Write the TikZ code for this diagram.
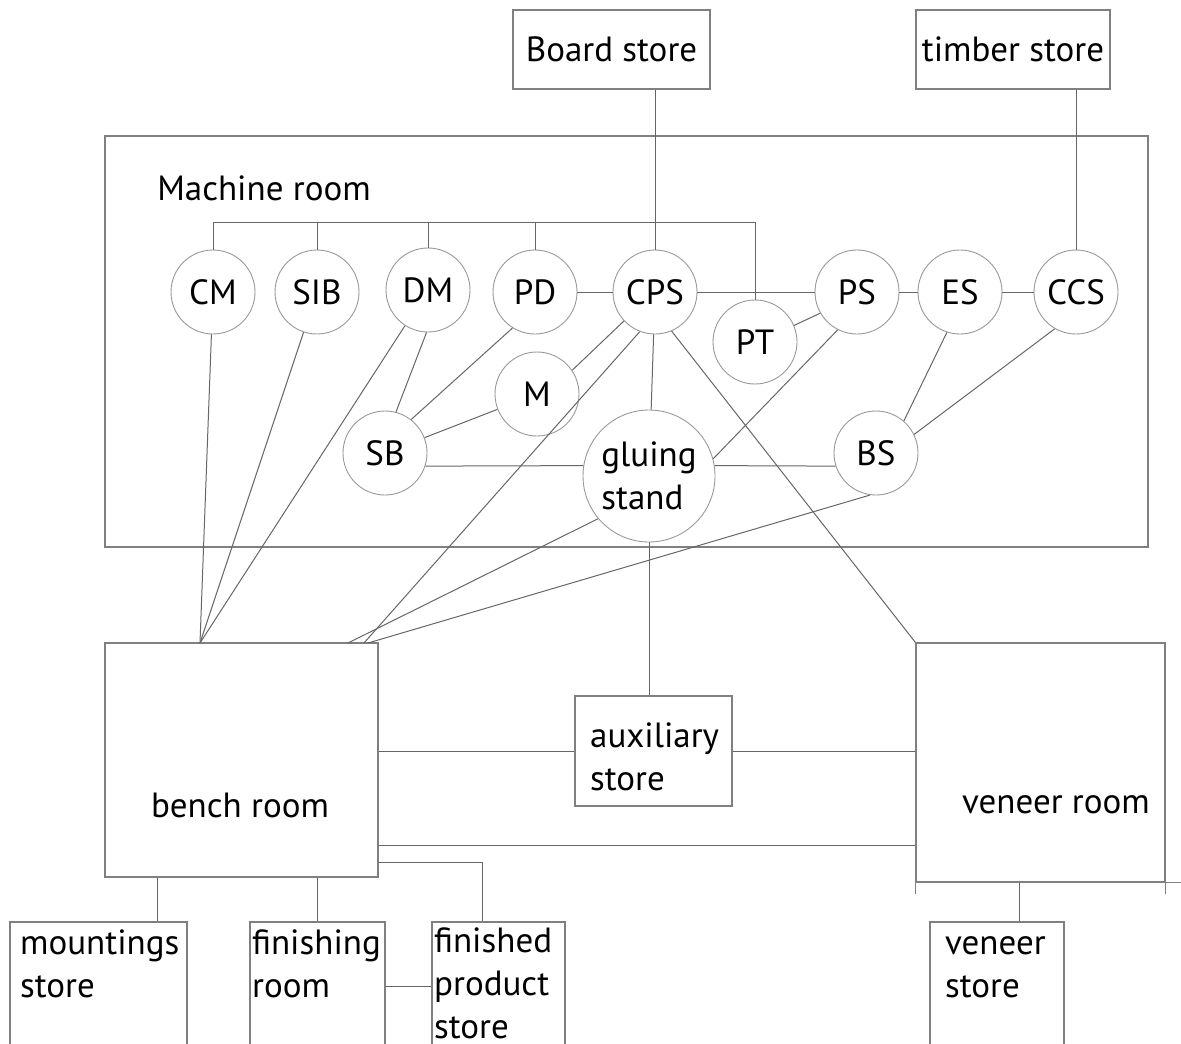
\documentclass[tikz,border=0pt]{standalone}
\usepackage{fontspec}
\setmainfont{PT Sans}
\usetikzlibrary{calc}
\definecolor{edge}{gray}{0.4}
\definecolor{ring}{gray}{0.6}
\definecolor{wall}{gray}{0.5}
\begin{document}
\begin{tikzpicture}[x=1pt, y=-1pt,
  every node/.style={font=\fontsize{35}{43}\selectfont},
  room/.style={draw=wall, line width=1.3pt, rectangle, inner sep=0pt},
  unit/.style={draw=ring, line width=0.9pt, circle, inner sep=0pt, minimum size=84pt},
  txt/.style={inner sep=0pt, align=left},
  wire/.style={draw=edge, line width=1pt}]
\useasboundingbox (0,0) rectangle (1181,1044);
\node[room, minimum width=197pt, minimum height=79pt] (board) at (611.5,49.5) {Board store};
\node[room, minimum width=194pt, minimum height=79pt] (timber) at (1013,49.5) {timber store};
\node[room, minimum width=1043pt, minimum height=411pt] (machine) at (626.5,341.5) {};
\node[txt] (machinetxt) at (264,188) {Machine room};
\node[room, minimum width=273pt, minimum height=234pt] (bench) at (241.5,760) {};
\node[txt] (benchtxt) at (240,805) {bench room};
\node[room, minimum width=157pt, minimum height=110pt] (aux) at (653.5,751) {};
\node[txt, anchor=base west] (auxtxt) at (590,790) {auxiliary\\store};
\node[room, minimum width=249pt, minimum height=239pt] (veneer) at (1040.5,762.5) {};
\node[txt] (veneertxt) at (1056,805) {veneer room};
\node[room, minimum width=177pt, minimum height=128pt] (mount) at (98.5,986) {};
\node[txt, anchor=base west] (mounttxt) at (20,997) {mountings\\store};
\node[room, minimum width=135pt, minimum height=128pt] (finish) at (317.5,986) {};
\node[txt, anchor=base west] (finishtxt) at (252,997) {finishing\\room};
\node[room, minimum width=133pt, minimum height=128pt] (product) at (498.5,986) {};
\node[txt, anchor=base west] (producttxt) at (434,1038) {finished\\product\\store};
\node[room, minimum width=134pt, minimum height=128pt] (vstore) at (997,986) {};
\node[txt, anchor=base west] (vstoretxt) at (945,997) {veneer\\store};
% ragged ends of the veneer room walls
\draw[draw=wall, line width=1.3pt] (veneer.south east) -- ++(15,0)
  (veneer.south east) -- ++(0,11) (veneer.south west) -- ++(0,11);

\node[unit] (cm) at (213,292) {CM};
\node[unit] (sib) at (317,292) {SIB};
\node[unit] (dm) at (428,290) {DM};
\node[unit] (pd) at (535,292) {PD};
\node[unit] (cps) at (655,292) {CPS};
\node[unit] (pt) at (755,342) {PT};
\node[unit] (ps) at (857,292) {PS};
\node[unit] (es) at (960,292) {ES};
\node[unit] (ccs) at (1076,292) {CCS};
\node[unit] (m) at (537,394) {M};
\node[unit] (sb) at (385,453) {SB};
\node[unit, minimum size=132pt, align=left] (glue) at (649,476) {gluing\\stand};
\node[unit] (bs) at (876,453) {BS};

\coordinate (bus) at (213,222);
\coordinate (benchA) at (200,643);
\coordinate (benchB) at (348,643);
\coordinate (benchC) at (364,643);
\coordinate (benchD) at (368,643);

\draw[wire] (cps.north |- board.south) -- (cps);
\draw[wire] (ccs.north |- timber.south) -- (ccs);
\draw[wire] (cm) -- (cm |- bus) -- (pt |- bus) -- (pt);
\foreach \n in {sib,dm,pd}
  \draw[wire] (\n) -- (\n |- bus);
\draw[wire] (pd) -- (cps) -- (ps) -- (es) -- (ccs);
\draw[wire] (pt.23) -- (ps.-150);
\draw[wire] (dm.-92) -- (sb.75);
\draw[wire] (pd.-122) -- (sb.52);
\draw[wire] (sb) -- (m);
\draw[wire] (m.34) -- (cps.-137);
\draw[wire] (cps) -- (glue);
\draw[wire] (sb.-18) -- (glue.171);
\draw[wire] (glue.9) -- (bs.-162);
\draw[wire] (ps.-117) -- (glue.15);
\draw[wire] (es.-108) -- (bs.49);
\draw[wire] (ccs.-120) -- (bs.26);
\foreach \n in {cm,sib,dm}
  \draw[wire] (\n) -- (benchA);
\draw[wire] (glue.-140) -- (benchB);
\draw[wire] (cps.-111) -- (benchC);
\draw[wire] (bs.-98) -- (benchD);
\draw[wire] (cps.-67) -- (veneer.north west);
\draw[wire] (glue) -- (glue |- aux.north);
\draw[wire] (aux.west) -- (aux.west -| bench.east);
\draw[wire] (aux.east) -- (aux.east -| veneer.west);
\draw[wire] (bench.south east) ++(0,-32) coordinate (b1) -- (b1 -| veneer.west);
\draw[wire] (bench.south east) ++(0,-15) coordinate (b2) -| ($(product.north west)!0.38!(product.north east)$);
\draw[wire] (bench.south west) ++(53,0) coordinate (b3) -- (b3 |- mount.north);
\draw[wire] (finish) -- (finish |- bench.south);
\draw[wire] (finish) -- (product);
\draw[wire] (veneer.south west) ++(104,0) coordinate (v1) -- (v1 |- vstore.north);
\end{tikzpicture}
\end{document}
